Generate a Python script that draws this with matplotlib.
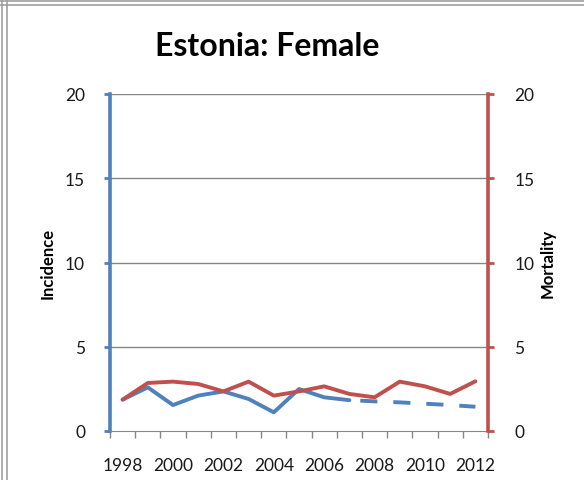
import matplotlib.pyplot as plt
from matplotlib.lines import Line2D

plt.rcParams["font.family"] = ["Lato", "DejaVu Sans"]

years = list(range(1998, 2013))
incidence = [1.86, 2.59, 1.54, 2.10, 2.35, 1.90, 1.11, 2.49, 2.00, 1.83,
             1.76, 1.70, 1.62, 1.54, 1.44]
mortality = [1.86, 2.85, 2.93, 2.79, 2.35, 2.93, 2.10, 2.35, 2.65, 2.20,
             2.00, 2.93, 2.65, 2.20, 2.95]
split_year = 2007  # solid up to here, dashed after
year_labels = [str(y) if y % 2 == 0 else "" for y in years]
y_ticks = [0, 5, 10, 15, 20]

blue = "#4F81BD"
red = "#C0504D"
grey = "#868686"
text_c = "#1a1a1a"

fig = plt.figure(figsize=(5.84, 4.81), dpi=100)
ax = fig.add_axes([110 / 584, 1 - 432 / 481, 378 / 584, 337 / 481])
ax2 = ax.twinx()

k = years.index(split_year)
ax.plot(years[:k + 1], incidence[:k + 1], color=blue, lw=2.8,
        solid_capstyle="round", zorder=3)
ax.plot(years[k:], incidence[k:], color=blue, lw=2.8,
        ls=(5.7, (4.4, 4.1)), zorder=3)
ax2.plot(years, mortality, color=red, lw=2.8, solid_capstyle="round",
         zorder=3)

for a in (ax, ax2):
    a.set_ylim(0, 20)
    a.set_yticks(y_ticks)
    a.set_xlim(1997.5, 2012.5)
    a.spines["top"].set_visible(False)

ax.set_xticks(years)
ax.set_xticklabels(year_labels)
ax.set_xticks([1997.5 + i for i in range(16)], minor=True)
ax.tick_params(axis="x", which="major", length=0, pad=19, labelsize=12.5,
               labelcolor=text_c)
ax.tick_params(axis="x", which="minor", length=5, color=grey, width=1)

for y in y_ticks[1:]:
    ax.axhline(y, color=grey, lw=1, zorder=1)

ax.spines["bottom"].set_color(grey)
ax.spines["left"].set_color(blue)
ax.spines["left"].set_linewidth(2.6)
ax.spines["right"].set_visible(False)
ax2.spines["right"].set_color(red)
ax2.spines["right"].set_linewidth(2.6)
ax2.spines["left"].set_visible(False)
ax2.spines["bottom"].set_visible(False)

ax.tick_params(axis="y", length=4, width=2, color=blue, pad=14,
               labelsize=12.5, labelcolor=text_c)
ax2.tick_params(axis="y", length=4, width=2, color=red, pad=15,
                labelsize=12.5, labelcolor=text_c)

ax.set_ylabel("Incidence", fontsize=12, fontweight="bold", labelpad=7)
ax2.set_ylabel("Mortality", fontsize=12, fontweight="bold", labelpad=4)

fig.text(267 / 584, 1 - 47 / 481, "Estonia: Female", ha="center",
         va="center", fontsize=23, fontweight="bold")

# screenshot frame lines
for x in (2 / 584, 7 / 584):
    fig.add_artist(Line2D([x, x], [0, 1], color="#a0a0a0", lw=1.2))
for y in (1 - 1.5 / 481, 1 - 5.5 / 481):
    fig.add_artist(Line2D([0, 1], [y, y], color="#a0a0a0", lw=1.2))

fig.savefig("out.png", dpi=100)
